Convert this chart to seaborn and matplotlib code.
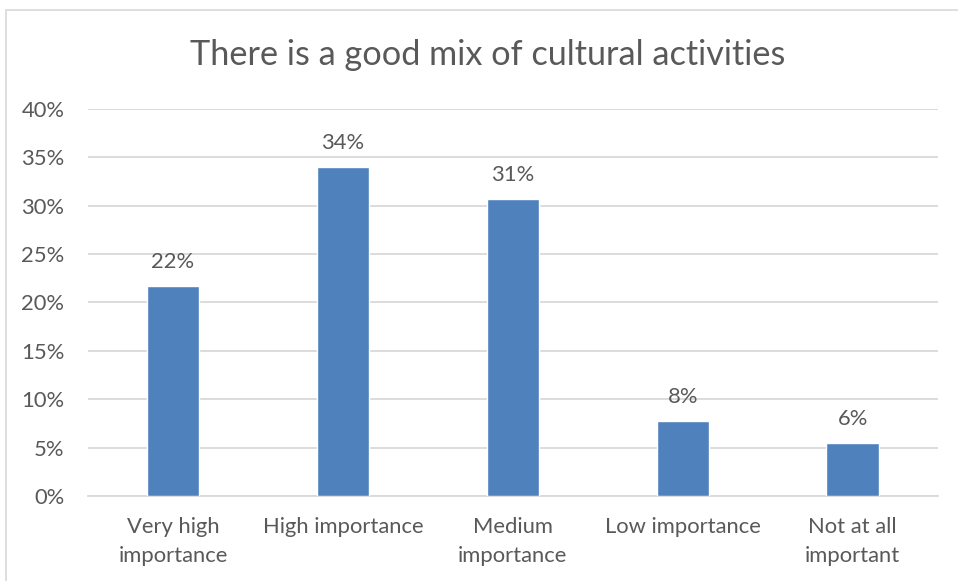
import matplotlib
matplotlib.use("Agg")
import matplotlib.pyplot as plt
from matplotlib.patches import Rectangle
from matplotlib.ticker import FuncFormatter, MultipleLocator
import pandas as pd
import seaborn as sns

categories = ["Very high\nimportance", "High importance", "Medium\nimportance",
              "Low importance", "Not at all\nimportant"]
shares = [0.217, 0.340, 0.307, 0.078, 0.055]
value_labels = ["22%", "34%", "31%", "8%", "6%"]

TITLE = "There is a good mix of cultural activities"
BAR_COLOR = "#4F81BD"
TEXT_COLOR = "#595959"
GRID_COLOR = "#D9D9D9"

sns.set_theme(style="white")
plt.rcParams["font.family"] = ["Lato", "DejaVu Sans"]

df = pd.DataFrame({"category": categories, "share": shares})

fig = plt.figure(figsize=(9.58, 5.81), dpi=100)
ax = fig.add_axes([0.0919, 0.1463, 0.887, 0.6661])

sns.barplot(data=df, x="category", y="share", color=BAR_COLOR, width=0.31,
            saturation=1, ax=ax, zorder=3)

ax.set_ylim(0, 0.40)
ax.yaxis.set_major_locator(MultipleLocator(0.05))
ax.yaxis.set_major_formatter(FuncFormatter(lambda v, _: f"{v * 100:.0f}%"))
ax.grid(axis="y", color=GRID_COLOR, linewidth=1.3, zorder=0)
ax.set_axisbelow(True)

for side in ["top", "right", "left"]:
    ax.spines[side].set_visible(False)
ax.spines["bottom"].set_color(GRID_COLOR)
ax.spines["bottom"].set_linewidth(1.3)

ax.tick_params(axis="both", length=0, labelsize=15.8, labelcolor=TEXT_COLOR)
ax.tick_params(axis="y", pad=17)
ax.tick_params(axis="x", pad=15)
for lbl in ax.get_xticklabels():
    lbl.set_linespacing(1.6)
ax.set_xlabel("")
ax.set_ylabel("")

ax.bar_label(ax.containers[0], labels=value_labels, padding=10,
             fontsize=15.8, color=TEXT_COLOR)

fig.text(0.509, 0.905, TITLE, ha="center", va="center", fontsize=24.7,
         color=TEXT_COLOR)

fig.patches.append(Rectangle((0.006, -0.01), 1.0, 0.993, transform=fig.transFigure,
                             fill=False, edgecolor=GRID_COLOR, linewidth=1.2))

fig.savefig("out.png", dpi=100, facecolor="white")
